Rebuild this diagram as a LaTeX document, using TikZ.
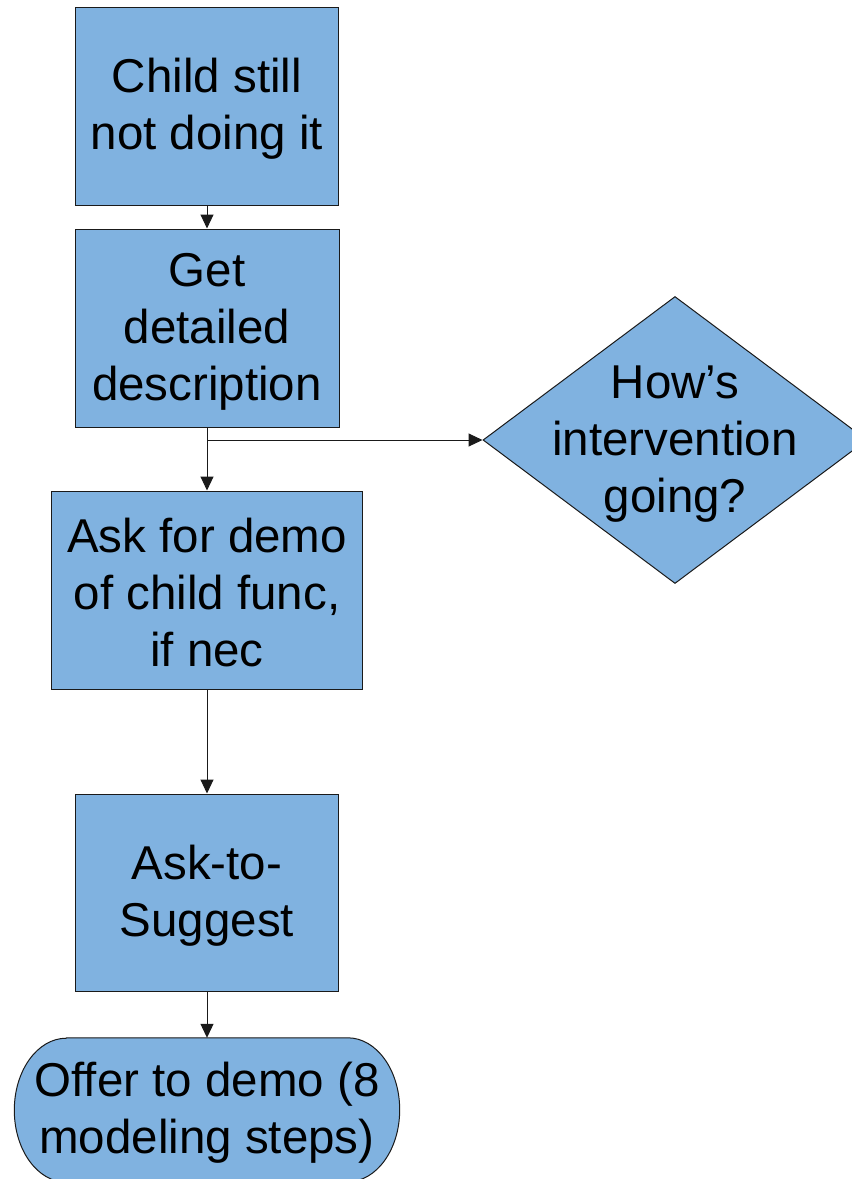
\documentclass[tikz,border=0pt]{standalone}
\usepackage{fontspec}
\setmainfont{Liberation Sans}
\usetikzlibrary{arrows.meta,shapes.geometric}
\definecolor{boxfill}{HTML}{80B2E0}
\definecolor{edge}{HTML}{1A1A1A}
% uniform height for the first text line of every label
\newcommand{\firstline}{\rule{0pt}{40pt}}
\begin{document}
\begin{tikzpicture}[x=1pt,y=-1pt,
  every node/.style={font=\fontsize{47.5}{57}\selectfont, text=black, align=center},
  stepbox/.style={draw=edge, line width=1pt, fill=boxfill, inner sep=0pt},
  link/.style={draw=edge, line width=1pt, -{Triangle[length=14pt,width=13pt]}}]
\useasboundingbox (0,0) rectangle (852,1179);
\clip (0,0) rectangle (852,1179);

% process boxes
\node[stepbox, minimum width=263pt, minimum height=198pt] (s1) at (207,106) {\firstline Child still\\not doing it};
\node[stepbox, minimum width=264pt, minimum height=198pt] (s2) at (207,328) {\firstline Get\\detailed\\description};
\node[stepbox, minimum width=311pt, minimum height=198pt] (s3) at (207,590) {\firstline Ask for demo\\of child func,\\if nec};
\node[stepbox, minimum width=263pt, minimum height=197pt] (s4) at (207,892.5) {\firstline Ask-to-\\Suggest};

% decision
\node[draw=edge, line width=1pt, fill=boxfill, diamond, aspect=1.338, inner sep=0pt,
      minimum width=384pt, minimum height=287pt] (q) at (675,440) {};
\node at (q.center) {\firstline How’s\\intervention\\going?};

% terminal with elliptical ends
\node[minimum width=385pt, minimum height=144pt, inner sep=0pt] (t) at (207,1110) {};
\path[draw=edge, line width=1pt, fill=boxfill]
  ([xshift=52pt]t.north west) -- ([xshift=-52pt]t.north east)
  arc[start angle=90, end angle=-90, x radius=52pt, y radius=72pt]
  -- ([xshift=52pt]t.south west)
  arc[start angle=270, end angle=90, x radius=52pt, y radius=72pt] -- cycle;
\node at (t.center) {\firstline Offer to demo (8\\modeling steps)};

% connectors
\coordinate (split) at (s2.south |- 0,440);
\draw[link] (s1.south) -- (s2.north);
\draw[link] (s2.south) -- (s3.north);
\draw[link] (split) -- (q.west);
\draw[link] (s3.south) -- (s4.north);
\draw[link] (s4.south) -- (t.north);
\end{tikzpicture}
\end{document}
